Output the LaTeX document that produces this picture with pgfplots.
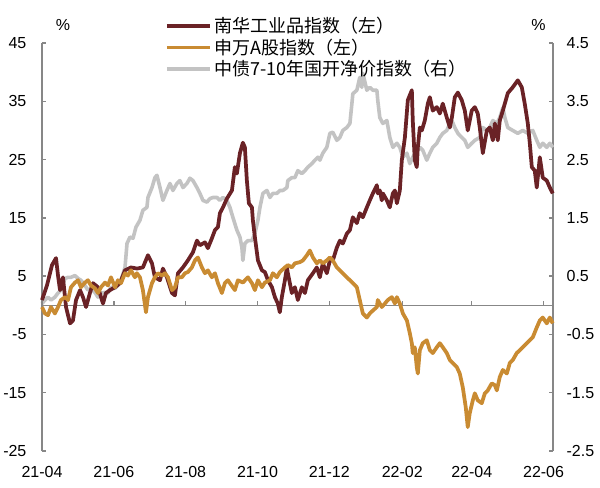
\documentclass[border=0pt]{standalone}
\usepackage{pgfplots}
\usepackage{pgfplotstable}
\pgfplotsset{compat=1.18}
\usepackage{fontspec}
\setmainfont{Liberation Sans}
\newfontfamily\cjk{Noto Sans CJK SC}
\definecolor{cred}{HTML}{6A2226}
\definecolor{cgold}{HTML}{C98B32}
\definecolor{cgray}{HTML}{C3C3C3}
\definecolor{caxis}{HTML}{878787}

% day = days since 2021-04-01
\pgfplotstableread{
d v
0 0.9
4.2 3.4
8.5 6.9
11.9 8.1
13.6 5.1
15.3 2.6
17.8 4.8
20.4 -0.3
23.8 -3.1
26.3 -2.6
28.9 0.9
32.3 2.6
34.8 1.4
37.4 -0.3
40.7 2.1
43.3 3.8
47.5 3.1
51.8 0.3
54.3 2.1
57.7 2.6
62.0 3.1
66.2 3.8
70.5 6.0
75.6 6.5
80.6 6.3
85.7 6.5
90.0 8.6
93.4 7.2
95.9 4.8
100.2 4.3
102.7 6.3
106.1 4.8
110.4 2.1
112.9 1.7
115.5 5.5
119.7 6.5
123.9 7.7
128.2 9.1
131.6 11.1
134.1 10.3
138.4 10.8
140.9 9.8
144.3 11.5
146.9 12.9
149.4 13.4
151.1 15.8
153.7 16.8
157.0 18.3
161.3 19.7
163.8 23.7
165.5 22.6
168.1 26.1
170.6 27.9
172.3 27.1
174.0 21.4
175.7 17.5
178.3 16.8
179.1 14.6
180.8 11.7
183.4 7.7
186.8 6.0
189.3 5.7
191.9 4.3
195.3 3.1
197.8 1.4
200.3 0.3
202.0 -1.2
203.7 1.4
206.3 4.3
208.0 6.5
208.8 5.5
212.2 2.1
214.8 3.1
217.3 0.9
220.7 3.1
223.3 2.1
225.8 4.3
230.1 5.5
233.4 6.5
236.0 4.8
238.5 7.2
241.9 5.5
244.5 7.7
247.0 7.7
250.4 9.9
253.0 11.1
255.5 10.6
258.9 12.3
261.5 12.9
264.0 15.1
267.4 14.1
269.9 15.8
272.5 15.1
275.9 16.8
278.4 18.0
281.0 19.2
284.4 20.6
285.2 19.2
286.9 19.7
288.6 18.0
289.5 19.2
292.9 18.0
295.4 16.8
298.0 19.2
299.7 19.7
301.4 17.5
303.9 19.7
305.6 24.9
308.2 28.8
310.7 35.2
314.1 36.9
314.9 31.7
316.6 24.9
318.3 23.7
319.2 27.1
320.9 30.5
322.6 30.0
325.1 31.7
327.7 34.6
329.4 35.7
331.9 33.4
335.3 34.0
337.9 32.9
340.4 34.6
343.8 32.2
346.4 30.5
348.1 32.2
350.6 35.7
353.2 36.5
356.5 35.2
359.1 33.4
361.6 30.0
365.0 33.4
367.6 34.0
370.1 32.9
371.8 30.5
374.4 26.1
377.8 30.0
380.3 30.5
382.9 28.3
384.6 31.2
387.1 28.3
388.8 31.7
391.4 33.4
395.6 36.4
399.8 37.4
404.1 38.6
407.5 37.4
410.0 34.6
412.6 31.2
414.3 27.8
416.0 23.7
418.5 23.1
420.2 20.2
422.8 25.4
425.3 21.9
428.7 21.4
431.3 20.2
433.8 19.2
}\redtab

\pgfplotstableread{
d v
0 -0.3
2.5 -1.4
5.1 -1.7
7.6 -0.3
11.0 -1.4
13.6 -0.3
16.1 0.9
19.5 1.4
22.1 0.9
24.6 3.1
28.0 3.9
30.6 4.3
33.1 3.1
36.5 3.9
39.0 4.3
41.6 3.4
45.0 2.9
47.5 2.1
50.1 3.1
53.5 3.9
56.0 3.4
58.6 4.8
62.0 3.1
64.5 4.3
67.1 3.8
70.5 5.5
73.0 5.1
75.6 6.0
78.9 4.8
80.6 5.5
83.2 4.8
85.7 2.6
88.3 -1.2
90.0 1.4
93.4 3.8
95.9 4.8
98.5 5.5
101.9 5.1
104.4 5.5
107.0 4.8
110.4 2.6
112.9 3.1
115.5 4.8
118.8 4.8
121.4 5.5
123.9 5.7
127.3 6.5
129.9 7.7
132.4 8.2
135.8 6.5
138.4 5.5
140.9 6.0
144.3 4.8
146.9 5.5
149.4 3.8
152.8 2.1
155.3 3.8
157.9 4.3
159.6 3.8
163.8 2.6
166.4 4.3
170.6 3.9
174.9 4.8
178.3 3.8
180.8 2.6
183.4 4.3
186.8 3.1
189.3 3.9
193.6 4.3
196.1 5.5
199.5 4.8
202.0 5.7
206.3 6.5
208.8 6.9
212.2 6.5
214.8 7.2
219.0 7.4
221.6 7.7
225.0 8.6
227.5 9.4
230.1 8.2
233.4 7.2
236.0 7.7
238.5 7.2
241.9 7.7
244.5 8.2
247.0 7.7
250.4 6.5
253.0 6.0
255.5 5.5
258.9 4.8
261.5 4.3
264.0 3.8
267.4 3.1
269.9 0.9
272.5 -1.4
275.9 -2.1
278.4 -1.4
281.0 -0.9
284.4 -0.3
285.2 0.9
288.6 -0.3
291.2 0.3
293.7 0.9
297.1 1.4
299.7 0.3
301.4 1.4
303.9 0.3
306.5 -1.4
309.9 -2.6
312.4 -4.8
314.1 -6.5
314.9 -8.2
316.6 -7.2
318.3 -10.6
319.2 -11.7
320.9 -7.7
323.4 -6.5
326.8 -6.0
329.4 -7.7
331.9 -8.2
335.3 -7.2
337.9 -6.5
340.4 -7.2
343.8 -8.2
346.4 -9.4
348.9 -9.9
352.3 -10.6
354.8 -11.7
357.4 -14.1
359.9 -17.5
361.6 -20.9
363.3 -18.5
365.9 -16.3
367.6 -15.1
370.1 -16.3
373.5 -16.8
376.1 -15.1
378.6 -14.6
382.0 -13.4
384.6 -13.7
386.3 -14.6
388.8 -12.3
391.4 -11.1
394.8 -11.7
397.3 -9.9
399.8 -9.4
403.2 -8.2
405.8 -7.7
408.3 -7.2
411.7 -6.5
414.3 -6.0
416.8 -5.5
420.2 -3.8
422.8 -2.6
425.3 -2.1
428.7 -3.1
431.3 -2.1
433.8 -3.1
}\goldtab

\pgfplotstableread{
d v
0 0.03
2.5 0.09
5.1 0.14
7.6 0.09
11.0 0.14
13.6 0.21
16.1 0.26
19.5 0.46
22.1 0.48
24.6 0.48
28.0 0.51
30.6 0.46
33.1 0.43
36.5 0.34
39.0 0.26
41.6 0.29
45.0 0.22
47.5 0.14
50.1 0.21
53.5 0.22
56.0 0.21
58.6 0.31
62.0 0.29
64.5 0.34
67.1 0.43
70.5 0.65
72.2 1.06
74.7 1.17
77.3 1.15
79.8 1.34
83.2 1.46
85.7 1.63
89.1 1.68
90.0 1.85
93.4 2.02
95.9 2.19
97.6 2.23
100.2 2.02
102.7 1.80
106.1 1.97
108.7 2.09
111.2 1.97
114.6 2.09
117.1 2.14
119.7 2.02
123.1 2.09
125.6 2.18
128.2 2.14
131.6 2.02
134.1 1.92
136.7 1.80
140.1 1.77
142.6 1.83
145.2 1.85
148.6 1.85
151.1 1.80
153.7 1.85
157.0 1.80
159.6 1.68
162.1 1.51
165.5 1.29
168.1 1.17
169.8 0.99
170.6 0.77
172.3 1.06
174.9 1.11
178.3 1.11
180.8 1.23
183.4 1.46
185.1 1.68
187.6 1.92
191.0 1.97
193.6 1.85
196.1 1.92
199.5 1.92
202.0 1.97
204.6 1.97
208.0 2.02
208.8 2.14
212.2 2.19
214.8 2.19
217.3 2.31
220.7 2.26
223.3 2.31
225.8 2.37
229.2 2.43
231.8 2.49
234.3 2.54
236.0 2.49
238.5 2.61
241.9 2.71
244.5 2.95
247.0 2.97
250.4 2.83
253.0 2.88
255.5 3.00
258.9 3.05
261.5 3.12
263.2 3.46
264.0 3.63
267.4 3.69
269.9 3.91
271.6 3.74
272.5 3.98
275.9 3.69
278.4 3.74
281.0 3.69
284.4 3.69
285.2 3.51
286.9 3.22
289.5 3.12
292.9 3.17
295.4 2.88
298.0 2.71
301.4 2.78
303.9 2.71
306.5 2.54
309.9 2.61
312.4 2.43
314.9 2.54
318.3 2.66
320.9 2.71
323.4 2.66
326.8 2.49
329.4 2.61
331.9 2.71
335.3 2.78
337.9 2.88
340.4 2.95
343.8 3.00
346.4 3.12
348.1 3.17
350.6 3.05
353.2 2.95
356.5 2.88
359.1 2.83
361.6 2.71
365.0 2.78
367.6 2.83
371.8 2.88
374.4 3.05
377.8 3.00
380.3 3.05
382.9 3.17
386.3 3.12
388.8 3.22
391.4 3.39
393.1 3.22
395.6 3.05
399.8 3.00
404.1 2.95
408.3 3.00
412.6 2.95
416.8 3.00
420.2 2.83
422.8 2.71
425.3 2.78
428.7 2.71
431.3 2.78
433.8 2.71
}\graytab

\pgfplotsset{
  base/.style={
    scale only axis, width=383.25pt, height=306pt,
    at={(0,0)}, anchor=south west,
    xmin=0, xmax=434, clip=false,
    tick label style={font=\fontsize{12}{14}\selectfont},
    /pgf/number format/assume math mode=true,
    y axis line style={-, caxis, line width=1.1pt},
    ytick style={caxis, line width=1.1pt},
    ytick align=inside, major tick length=3pt,
  }
}

\begin{document}
\begin{tikzpicture}
\path[use as bounding box] (-31.5pt,-27pt) rectangle (418.5pt,338.25pt);
\begin{axis}[base,
  ymin=-2.5, ymax=4.5,
  axis y line*=right, axis x line=none,
  xtick=\empty,
  ytick={-2.5,-1.5,-0.5,0.5,1.5,2.5,3.5,4.5},
  yticklabel style={inner sep=0pt, xshift=10pt,
    /pgf/number format/.cd, fixed, fixed zerofill, precision=1},
]
\addplot[cgray, line width=2.7pt, line join=round] table[x=d,y=v] {\graytab};
\node[font=\fontsize{12}{14}\selectfont] at (rel axis cs:0.9716,1.0441) {\%};
\end{axis}
\begin{axis}[base,
  ymin=-25, ymax=45,
  axis y line*=left, axis x line*=bottom,
  x axis line style={draw=none}, xtick style={draw=none},
  xtick={0,61,122,183,244,306,365,426},
  xticklabels={21-04,21-06,21-08,21-10,21-12,22-02,22-04,22-06},
  xticklabel style={inner sep=0pt, yshift=-11pt},
  ytick={-25,-15,-5,5,15,25,35,45},
  yticklabel style={inner sep=0pt, xshift=-11.5pt},
  legend style={at={(0.2407,1.0686)}, anchor=north west, draw=none, fill=none,
    inner sep=0pt, outer sep=0pt, row sep=0pt, column sep=2pt,
    font=\cjk\fontsize{13.5}{16}\selectfont,
    nodes={inner sep=0pt, text height=13.2pt, text depth=3pt}},
  legend cell align=left,
  legend image code/.code={\draw[#1] (0pt,0pt) -- (32.25pt,0pt);},
]
\draw[caxis, line width=1.1pt] (axis cs:0,0) -- (axis cs:434,0);
\pgfplotsinvokeforeach{61,122,183,244,306,365,426}{
  \draw[caxis, line width=1.1pt] (axis cs:#1,0) -- ++(0pt,3pt);
}
\addplot[cred, line width=2.8pt, line join=round] table[x=d,y=v] {\redtab};
\addlegendentry{南华工业品指数（左）}
\addplot[cgold, line width=2.8pt, line join=round] table[x=d,y=v] {\goldtab};
\addlegendentry{申万A股指数（左）}
\addlegendimage{cgray, line width=2.7pt}
\addlegendentry{中债7-10年国开净价指数（右）}
\node[font=\fontsize{12}{14}\selectfont] at (rel axis cs:0.0411,1.0441) {\%};
\end{axis}
\end{tikzpicture}
\end{document}
